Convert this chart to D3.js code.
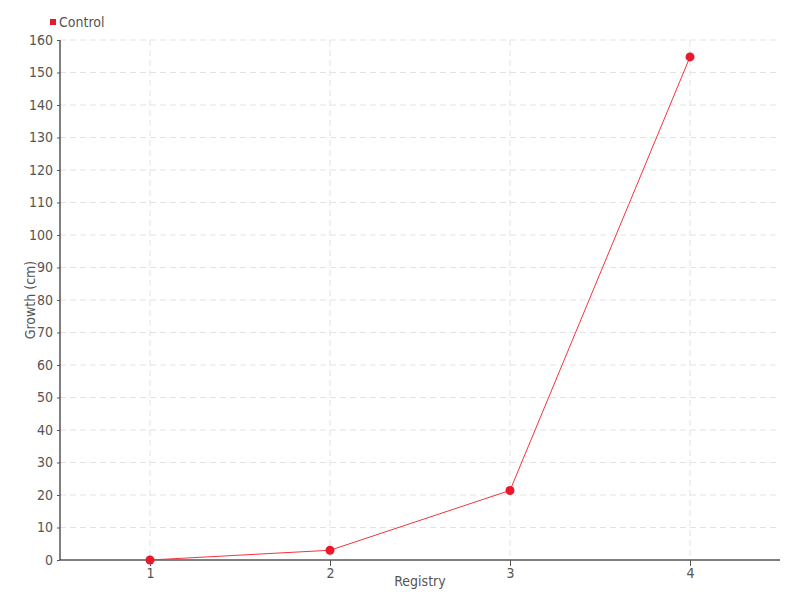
<!DOCTYPE html>
<html><head><meta charset="utf-8">
<script src="https://cdn.jsdelivr.net/npm/d3@7"></script>
<style>
body{margin:0;background:#fff;}
text{font-family:"DejaVu Sans Condensed","Liberation Sans Narrow",sans-serif;}
</style></head>
<body><svg id="c" width="800" height="600"></svg>
<script>
const categories = [1, 2, 3, 4];
const controlValues = [0, 3, 21.4, 154.8];
const yTicks = d3.range(0, 161, 10);
const seriesName = "Control";

const svg = d3.select("#c");
const m = {l:60, r:20, t:40, b:40};
const W = 800, H = 600;
const x = d3.scaleLinear().domain([0.5, 4.5]).range([m.l, W - m.r]);
const y = d3.scaleLinear().domain([0, 160]).range([H - m.b, m.t]);
const red = "#e8192c", txt = "#555";

// grid
svg.append("g").selectAll("line").data(yTicks.filter(d=>d>0)).join("line")
  .attr("x1", m.l).attr("x2", W - m.r).attr("y1", d=>y(d)).attr("y2", d=>y(d))
  .attr("stroke", "#e3e3e3").attr("stroke-dasharray", "6,4");
svg.append("g").selectAll("line").data(categories).join("line")
  .attr("x1", d=>x(d)).attr("x2", d=>x(d)).attr("y1", m.t).attr("y2", H - m.b)
  .attr("stroke", "#e3e3e3").attr("stroke-dasharray", "6,4");

// axes
const ya = svg.append("g").attr("transform", `translate(${m.l},0)`)
  .call(d3.axisLeft(y).tickValues(yTicks).tickSize(3).tickPadding(4).tickFormat(d3.format("d")));
ya.select(".domain").attr("stroke", "#000").attr("d", `M0,${y(160)}V${y(0)}`);
ya.selectAll(".tick line").attr("stroke", "#555");
ya.selectAll("text").attr("fill", txt).style("font-size", "14px");

const xa = svg.append("g").attr("transform", `translate(0,${H - m.b})`)
  .call(d3.axisBottom(x).tickValues(categories).tickSize(6).tickPadding(2).tickFormat(d3.format("d")));
xa.select(".domain").attr("stroke", "#000").attr("d", `M${m.l},0H${W - m.r}`);
xa.selectAll(".tick line").attr("stroke", "#555");
xa.selectAll("text").attr("fill", txt).style("font-size", "14px");

// labels
svg.append("text").attr("x", 420).attr("y", 586).attr("text-anchor", "middle")
  .attr("fill", txt).style("font-size", "14px").text("Registry");
svg.append("text").attr("transform", "translate(35,300) rotate(-90)").attr("text-anchor", "middle")
  .attr("fill", txt).style("font-size", "14px").text("Growth (cm)");

// line
const data = categories.map((c,i)=>({c, v: controlValues[i]}));
svg.append("path").datum(data)
  .attr("d", d3.line().x(d=>x(d.c)).y(d=>y(d.v)))
  .attr("fill", "none").attr("stroke", "#f5333f").attr("stroke-width", 1);
svg.append("g").selectAll("circle").data(data).join("circle")
  .attr("cx", d=>x(d.c)).attr("cy", d=>y(d.v)).attr("r", 4.5).attr("fill", red);

// legend
svg.append("rect").attr("x", 50).attr("y", 19).attr("width", 6).attr("height", 6).attr("fill", red);
svg.append("text").attr("x", 59).attr("y", 27).attr("fill", txt).style("font-size", "14px").text(seriesName);
</script></body></html>
